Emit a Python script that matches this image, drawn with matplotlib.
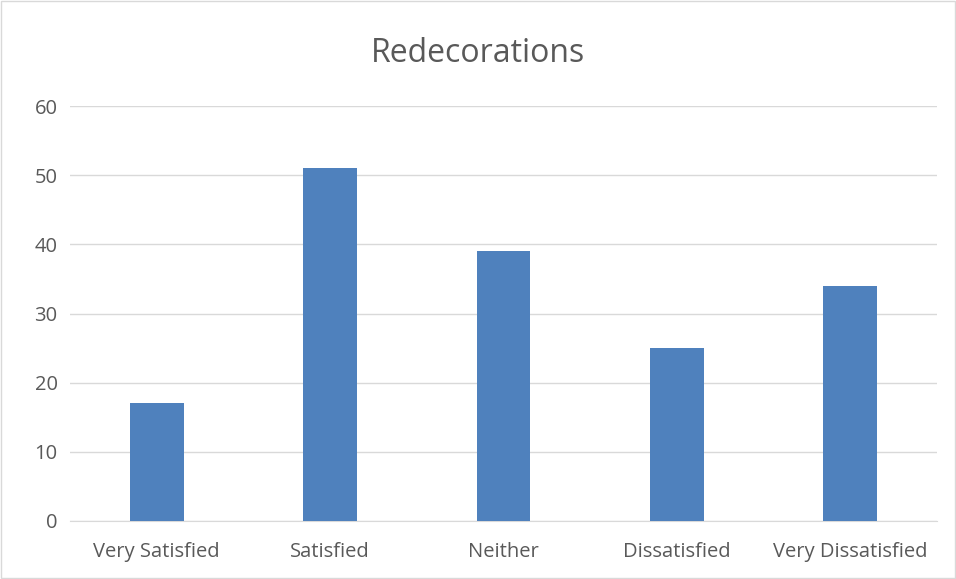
import matplotlib
matplotlib.use("Agg")
import matplotlib.pyplot as plt
from matplotlib.patches import Rectangle

categories = ["Very Satisfied", "Satisfied", "Neither", "Dissatisfied", "Very Dissatisfied"]
values = [17, 51, 39, 25, 34]
yticks = [0, 10, 20, 30, 40, 50, 60]

plt.rcParams['font.family'] = ['Open Sans', 'DejaVu Sans']
fig = plt.figure(figsize=(9.56, 5.79), dpi=100)
fig.patches.append(Rectangle((0.001, 0.001), 0.998, 0.997, transform=fig.transFigure,
                             fill=False, edgecolor="#D9D9D9", linewidth=1))
ax = fig.add_axes([70/956, 1-521/579, 867/956, 415/579])
x = range(len(categories))
ax.bar(x, values, width=0.31, color="#4F81BD", zorder=3)
ax.set_xlim(-0.5, len(categories)-0.5)
ax.set_ylim(0, 60)
ax.set_yticks(yticks)
ax.set_xticks(list(x))
ax.set_xticklabels(categories)
ax.yaxis.grid(True, color="#D9D9D9", linewidth=1)
ax.set_axisbelow(True)
for s in ["top", "right", "left"]:
    ax.spines[s].set_visible(False)
ax.spines["bottom"].set_color("#D9D9D9")
ax.tick_params(axis="both", length=0, labelsize=14.5, colors="#595959")
ax.tick_params(axis="x", pad=15)
ax.tick_params(axis="y", pad=9)
fig.text(0.5, 1-54/579, "Redecorations", ha="center", va="center", fontsize=23, color="#595959")
fig.savefig("out.png", dpi=100)
